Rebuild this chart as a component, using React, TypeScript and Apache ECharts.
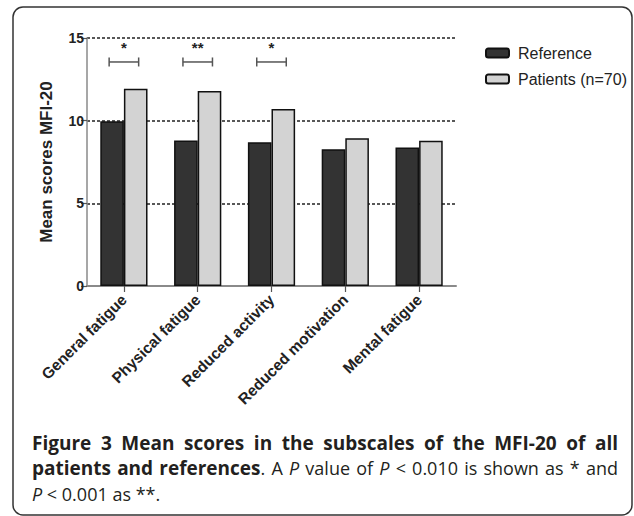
import React, { useEffect, useRef } from "react";
import * as echarts from "echarts";

// MFI-20 subscales and mean scores per group
const categories = [
  "General fatigue",
  "Physical fatigue",
  "Reduced activity",
  "Reduced motivation",
  "Mental fatigue",
];
const referenceScores = [9.97, 8.8, 8.7, 8.27, 8.37];
const patientScores = [11.93, 11.8, 10.7, 8.93, 8.78];

// y axis scale
const yMin = 0;
const yMax = 15;
const yInterval = 5;

// significance brackets: category index, bracket level, star level, mark
const sigCategories = [0, 1, 2];
const sigBracketLevels = [13.55, 13.55, 13.55];
const sigMarkLevels = [14.45, 14.45, 14.45];
const sigMarks = ["*", "**", "*"];

const seriesNames = ["Reference", "Patients (n=70)"];

// figure caption, as styled runs per line (b = bold, n = normal, i = italic)
type Run = { t: string; s: "b" | "n" | "i" };
const captionLines: Run[][] = [
  [{ t: "Figure 3 Mean scores in the subscales of the MFI-20 of all", s: "b" }],
  [
    { t: "patients and references", s: "b" },
    { t: ". A ", s: "n" },
    { t: "P", s: "i" },
    { t: " value of ", s: "n" },
    { t: "P", s: "i" },
    { t: " < 0.010 is shown as * and", s: "n" },
  ],
  [
    { t: "P", s: "i" },
    { t: " < 0.001 as **.", s: "n" },
  ],
];
const captionJustified = [true, true, false];

const AXIS_FONT = "'Liberation Sans', Arial, Helvetica, sans-serif";
const CAPTION_FONT = "'Open Sans', 'Noto Sans', sans-serif";
const CAPTION_SIZE = 18;
const CAPTION_BOLD_SIZE = 19;
const CAPTION_COLOR = "#231f20";
const CAPTION_LEFT = 32;
const CAPTION_RIGHT = 618;
const CAPTION_Y = [443, 468, 494];

const runStyles: Record<string, any> = {
  b: { fontFamily: CAPTION_FONT, fontWeight: "bold", fontStyle: "normal", fontSize: CAPTION_BOLD_SIZE, fill: CAPTION_COLOR },
  n: { fontFamily: CAPTION_FONT, fontWeight: "normal", fontStyle: "normal", fontSize: CAPTION_SIZE, fill: CAPTION_COLOR },
  i: { fontFamily: CAPTION_FONT, fontWeight: "normal", fontStyle: "italic", fontSize: CAPTION_SIZE, fill: CAPTION_COLOR },
};

// Builds a rich-text string for one caption line; for justified lines the
// word gaps are widened so the line fills the caption width.
function buildCaptionLine(runs: Run[], justify: boolean) {
  const ctx = document.createElement("canvas").getContext("2d")!;
  const fontOf = (s: string) => {
    const st = runStyles[s];
    return `${st.fontStyle} ${st.fontWeight} ${st.fontSize}px ${st.fontFamily}`;
  };
  const tokens: { t: string; s: string; space: boolean }[] = [];
  runs.forEach((r) => {
    let word = "";
    for (const ch of r.t) {
      if (ch === " ") {
        if (word) tokens.push({ t: word, s: r.s, space: false });
        word = "";
        tokens.push({ t: " ", s: r.s, space: true });
      } else {
        word += ch;
      }
    }
    if (word) tokens.push({ t: word, s: r.s, space: false });
  });
  let wordsWidth = 0;
  let naturalSpaces = 0;
  let nSpaces = 0;
  tokens.forEach((tk) => {
    ctx.font = fontOf(tk.s);
    if (tk.space) {
      nSpaces++;
      naturalSpaces += ctx.measureText(" ").width;
    } else {
      wordsWidth += ctx.measureText(tk.t).width;
    }
  });
  const target = CAPTION_RIGHT - CAPTION_LEFT;
  const gap = justify && nSpaces > 0 ? (target - wordsWidth) / nSpaces : naturalSpaces / Math.max(nSpaces, 1);
  const text = tokens.map((tk) => (tk.space ? `{sp| }` : `{${tk.s}|${tk.t}}`)).join("");
  const rich = { ...runStyles, sp: { ...runStyles.n, width: gap } };
  return { text, rich };
}

export default function App() {
  const ref = useRef<HTMLDivElement>(null);

  useEffect(() => {
    if (!ref.current) return;
    const chart = echarts.init(ref.current, undefined, { renderer: "svg" });

    const sigData = sigCategories.map((c, i) => [c, sigBracketLevels[i], sigMarkLevels[i]]);

    const captionGraphics = captionLines.map((runs, i) => {
      const { text, rich } = buildCaptionLine(runs, captionJustified[i]);
      return {
        type: "text",
        x: CAPTION_LEFT,
        y: CAPTION_Y[i],
        style: { text, rich, verticalAlign: "middle", fill: CAPTION_COLOR },
      };
    });

    chart.setOption({
      animation: false,
      backgroundColor: "#ffffff",
      grid: { left: 87, right: 178, top: 38, bottom: 230, containLabel: false },
      legend: {
        data: seriesNames,
        orient: "vertical",
        left: 480,
        top: 40,
        itemWidth: 23,
        itemHeight: 9,
        itemGap: 10,
        selectedMode: false,
        textStyle: {
          fontFamily: AXIS_FONT,
          fontSize: 16,
          color: "#222",
          padding: [0, 0, 0, 4],
        },
      },
      xAxis: {
        type: "category",
        data: categories,
        axisLine: { show: true, lineStyle: { color: "#8a8a8a", width: 2 } },
        axisTick: { show: true, alignWithLabel: true, length: 6, lineStyle: { color: "#555", width: 1.2 } },
        axisLabel: {
          interval: 0,
          rotate: 45,
          margin: 11,
          fontFamily: AXIS_FONT,
          fontWeight: "bold",
          fontSize: 15.5,
          color: "#222",
        },
        splitLine: { show: false },
      },
      yAxis: {
        type: "value",
        min: yMin,
        max: yMax,
        interval: yInterval,
        name: "Mean scores MFI-20",
        nameLocation: "middle",
        nameRotate: 90,
        nameGap: 32,
        nameTextStyle: {
          fontFamily: AXIS_FONT,
          fontWeight: "bold",
          fontSize: 17,
          color: "#222",
        },
        axisLine: { show: true, lineStyle: { color: "#8a8a8a", width: 1.5 } },
        axisTick: { show: true, length: 6, lineStyle: { color: "#555", width: 1.2 } },
        axisLabel: {
          margin: 3,
          fontFamily: AXIS_FONT,
          fontWeight: "bold",
          fontSize: 14,
          color: "#222",
        },
        splitLine: {
          show: true,
          lineStyle: { color: "#222", width: 1.5, type: [3, 2] },
        },
      },
      series: [
        {
          name: seriesNames[0],
          type: "bar",
          data: referenceScores,
          barGap: "0%",
          barCategoryGap: "36%",
          itemStyle: { color: "#333333", borderColor: "#111", borderWidth: 1.5 },
        },
        {
          name: seriesNames[1],
          type: "bar",
          data: patientScores,
          barGap: "0%",
          barCategoryGap: "36%",
          itemStyle: { color: "#d3d3d3", borderColor: "#111", borderWidth: 1.5 },
        },
        {
          name: "significance",
          type: "custom",
          data: sigData,
          z: 5,
          renderItem: (params: any, api: any) => {
            const idx = api.value(0);
            const [cx, cy] = api.coord([idx, api.value(1)]);
            const [, ty] = api.coord([idx, api.value(2)]);
            const band = api.size([1, 0])[0];
            const half = band * 0.2;
            const cap = 4.5;
            const lineStyle = { stroke: "#555", lineWidth: 1.5 };
            return {
              type: "group",
              children: [
                { type: "line", shape: { x1: cx - half, y1: cy, x2: cx + half, y2: cy }, style: lineStyle },
                { type: "line", shape: { x1: cx - half, y1: cy - cap, x2: cx - half, y2: cy + cap }, style: lineStyle },
                { type: "line", shape: { x1: cx + half, y1: cy - cap, x2: cx + half, y2: cy + cap }, style: lineStyle },
                {
                  type: "text",
                  x: cx,
                  y: ty,
                  style: {
                    text: sigMarks[params.dataIndex],
                    textAlign: "center",
                    textVerticalAlign: "middle",
                    fontFamily: AXIS_FONT,
                    fontWeight: "bold",
                    fontSize: 15,
                    fill: "#222",
                  },
                },
              ],
            };
          },
        },
      ],
      graphic: [
        {
          type: "rect",
          shape: { x: 13, y: 7, width: 619, height: 508, r: 10 },
          style: { fill: "none", stroke: "#333", lineWidth: 1.5 },
          silent: true,
        },
        ...captionGraphics,
      ],
    });

    return () => chart.dispose();
  }, []);

  return (
    <div
      ref={ref}
      style={{ position: "absolute", left: 0, top: 0, width: 634, height: 516, background: "#fff" }}
    />
  );
}
